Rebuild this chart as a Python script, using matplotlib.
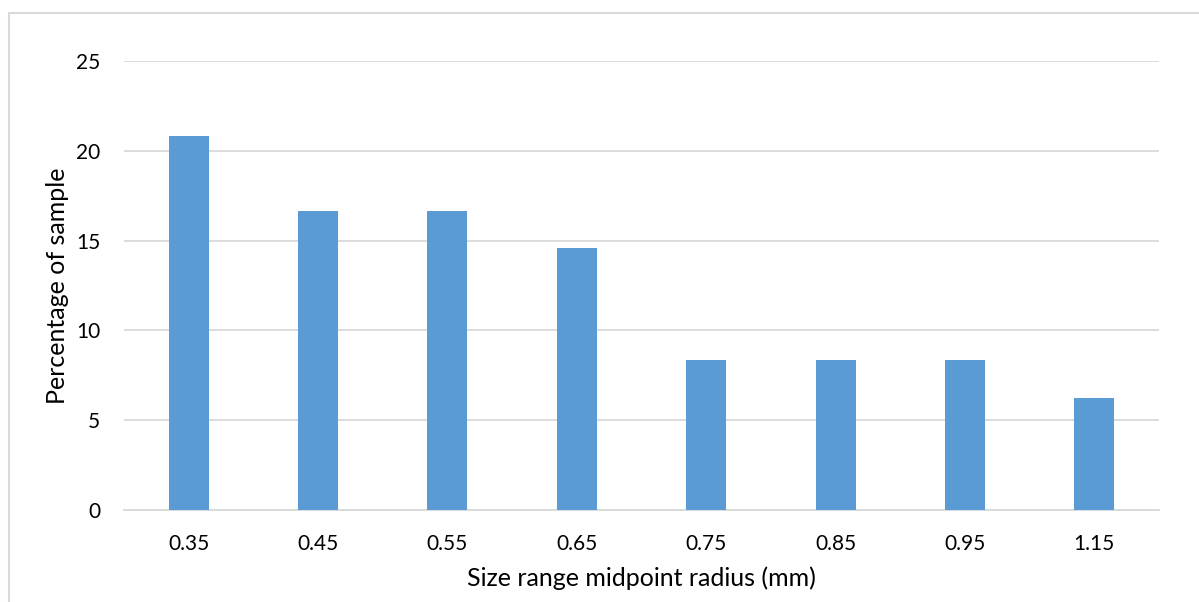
import numpy as np
from matplotlib import pyplot as plt
from matplotlib.patches import Rectangle

# bin midpoints and share of the sample in each
radius_labels = ['0.35', '0.45', '0.55', '0.65', '0.75', '0.85', '0.95', '1.15']
percent = [20.83, 16.67, 16.67, 14.58, 8.33, 8.33, 8.33, 6.25]
y_ticks = [0, 5, 10, 15, 20, 25]

plt.rcParams['font.family'] = ['Lato', 'DejaVu Sans']

W, H = 1199, 602
fig = plt.figure(figsize=(W / 100, H / 100), dpi=100)
ax = fig.add_axes([124 / W, 1 - 510 / H, (1159 - 124) / W, (510 - 61) / H])

x = np.arange(len(radius_labels))
ax.bar(x, percent, width=0.31, color='#5B9BD5', zorder=3)

ax.set_xlim(-0.5, len(radius_labels) - 0.5)
ax.set_ylim(0, 25)
ax.set_yticks(y_ticks)
ax.set_xticks(x)
ax.set_xticklabels(radius_labels)
ax.grid(axis='y', color='#d9d9d9', lw=1.3, zorder=0)
for s in ['top', 'right', 'left']:
    ax.spines[s].set_visible(False)
ax.spines['bottom'].set_color('#d9d9d9')
ax.spines['bottom'].set_linewidth(1.3)
ax.tick_params(length=0, labelsize=15, colors='black')
ax.tick_params(axis='y', pad=17)
ax.tick_params(axis='x', pad=17)

ax.set_xlabel('Size range midpoint radius (mm)', fontsize=18, labelpad=9)
ax.set_ylabel('Percentage of sample', fontsize=18, labelpad=5)

# chart area border (runs off the right and bottom)
fig.patches.append(Rectangle((9 / W, -0.1), 1.1, 1.1 - 13 / H,
                             transform=fig.transFigure, fill=False,
                             edgecolor='#d9d9d9', lw=1.5))

fig.savefig('out.png', dpi=100)
